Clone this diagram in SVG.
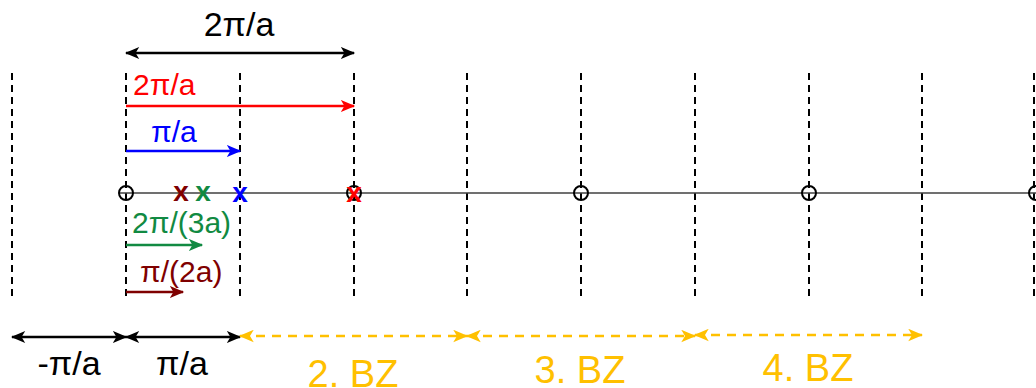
<svg xmlns="http://www.w3.org/2000/svg" width="1036" height="388" viewBox="0 0 1036 388">
<style>
text{font-family:"Liberation Sans",Arial,sans-serif}
.grid{stroke:#000;stroke-width:2;stroke-dasharray:7,5;fill:none}
.axis{stroke:#404040;stroke-width:1.5}
.ring{fill:none;stroke:#000;stroke-width:2}
.x{font-weight:bold;font-size:28px;text-anchor:middle}
.lbl{font-size:30px}
.big{font-size:34px;text-anchor:middle}
.bz{font-size:38px;fill:#FFC000;text-anchor:middle}
.arr{stroke-width:2.5;fill:none}
</style>
<defs>
<marker id="ak" viewBox="0 0 12 10" refX="11" refY="5" markerWidth="15" markerHeight="12" markerUnits="userSpaceOnUse" orient="auto-start-reverse"><path d="M0,0 L12,5 L0,10 L3,5 z" fill="#000"/></marker>
<marker id="ar" viewBox="0 0 12 10" refX="11" refY="5" markerWidth="15" markerHeight="12" markerUnits="userSpaceOnUse" orient="auto"><path d="M0,0 L12,5 L0,10 L3,5 z" fill="#FF0000"/></marker>
<marker id="ab" viewBox="0 0 12 10" refX="11" refY="5" markerWidth="15" markerHeight="12" markerUnits="userSpaceOnUse" orient="auto"><path d="M0,0 L12,5 L0,10 L3,5 z" fill="#0000FF"/></marker>
<marker id="ag" viewBox="0 0 12 10" refX="11" refY="5" markerWidth="15" markerHeight="12" markerUnits="userSpaceOnUse" orient="auto"><path d="M0,0 L12,5 L0,10 L3,5 z" fill="#118A42"/></marker>
<marker id="ad" viewBox="0 0 12 10" refX="11" refY="5" markerWidth="15" markerHeight="12" markerUnits="userSpaceOnUse" orient="auto"><path d="M0,0 L12,5 L0,10 L3,5 z" fill="#7F0000"/></marker>
<marker id="ay" viewBox="0 0 12 10" refX="11" refY="5" markerWidth="15" markerHeight="13" markerUnits="userSpaceOnUse" orient="auto-start-reverse"><path d="M0,0 L12,5 L0,10 L3,5 z" fill="#FFC000"/></marker>
</defs>
<g id="grid">
<line class="grid" x1="12" y1="73" x2="12" y2="300"/>
<line class="grid" x1="126" y1="73" x2="126" y2="300"/>
<line class="grid" x1="240" y1="73" x2="240" y2="300"/>
<line class="grid" x1="354" y1="73" x2="354" y2="300"/>
<line class="grid" x1="467" y1="73" x2="467" y2="300"/>
<line class="grid" x1="581" y1="73" x2="581" y2="300"/>
<line class="grid" x1="695" y1="73" x2="695" y2="300"/>
<line class="grid" x1="809" y1="73" x2="809" y2="300"/>
<line class="grid" x1="922" y1="73" x2="922" y2="300"/>
<line class="grid" x1="1034" y1="73" x2="1034" y2="300"/>
</g>
<g id="axis">
<line class="axis" x1="119" y1="193" x2="1036" y2="193"/>
<circle class="ring" cx="126" cy="193" r="7"/>
<circle class="ring" cx="354" cy="193" r="7"/>
<circle class="ring" cx="581" cy="193" r="7"/>
<circle class="ring" cx="809" cy="193" r="7"/>
<circle class="ring" cx="1036" cy="193" r="7"/>
</g>
<g id="points">
<text class="x" x="181" y="201" fill="#7F0000">x</text>
<text class="x" x="203" y="201" fill="#118A42">x</text>
<text class="x" x="240" y="202" fill="#0000FF">x</text>
<text class="x" x="354" y="202" fill="#FF0000">x</text>
</g>
<g id="connectors">
<line class="arr" x1="126" y1="53" x2="354" y2="53" stroke="#000" marker-start="url(#ak)" marker-end="url(#ak)"/>
<line class="arr" x1="126" y1="106" x2="354" y2="106" stroke="#FF0000" marker-end="url(#ar)"/>
<line class="arr" x1="126" y1="151" x2="240" y2="151" stroke="#0000FF" marker-end="url(#ab)"/>
<line class="arr" x1="126" y1="245" x2="202" y2="245" stroke="#118A42" marker-end="url(#ag)"/>
<line class="arr" x1="126" y1="292" x2="183" y2="292" stroke="#7F0000" marker-end="url(#ad)"/>
<line class="arr" x1="12" y1="337" x2="126" y2="337" stroke="#000" marker-start="url(#ak)" marker-end="url(#ak)"/>
<line class="arr" x1="126" y1="337" x2="240" y2="337" stroke="#000" marker-start="url(#ak)" marker-end="url(#ak)"/>
<line class="arr" x1="240" y1="336" x2="467" y2="336" stroke="#FFC000" stroke-dasharray="9,7" marker-start="url(#ay)" marker-end="url(#ay)"/>
<line class="arr" x1="467" y1="336" x2="695" y2="336" stroke="#FFC000" stroke-dasharray="9,7" marker-start="url(#ay)" marker-end="url(#ay)"/>
<line class="arr" x1="695" y1="335" x2="922" y2="335" stroke="#FFC000" stroke-dasharray="9,7" marker-start="url(#ay)" marker-end="url(#ay)"/>
</g>
<g id="labels">
<text class="big" x="239" y="36">2π/a</text>
<text class="lbl" x="133" y="95" fill="#FF0000">2π/a</text>
<text class="lbl" x="151" y="142" fill="#0000FF">π/a</text>
<text class="lbl" x="132" y="233" fill="#118A42">2π/(3a)</text>
<text class="lbl" x="140" y="282" fill="#7F0000">π/(2a)</text>
<text class="big" x="69" y="375">-π/a</text>
<text class="big" x="182" y="375">π/a</text>
<text class="bz" x="353" y="387">2. BZ</text>
<text class="bz" x="580" y="383">3. BZ</text>
<text class="bz" x="808" y="381">4. BZ</text>
</g>
</svg>
